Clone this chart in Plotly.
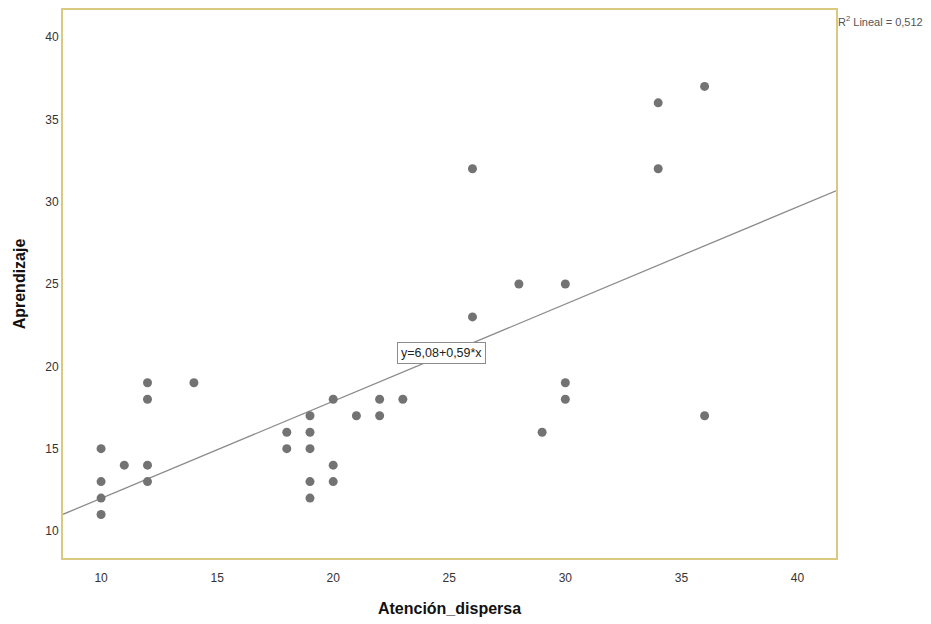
import plotly.graph_objects as go

# Data (Atención_dispersa vs Aprendizaje)
atencion = [10, 10, 10, 10, 11, 12, 12, 12, 12, 14,
            18, 18, 19, 19, 19, 19, 19, 20, 20, 20,
            21, 22, 22, 23, 26, 26, 28, 29, 30, 30,
            30, 34, 34, 36, 36]
aprendizaje = [15, 13, 12, 11, 14, 19, 18, 14, 13, 19,
               16, 15, 17, 16, 15, 13, 12, 18, 14, 13,
               17, 18, 17, 18, 32, 23, 25, 16, 25, 19,
               18, 36, 32, 37, 17]

intercept = 6.08
slope = 0.59
r2 = "0,512"
x_range = [8.36, 41.66]
y_range = [8.36, 41.64]
tick_vals = [10, 15, 20, 25, 30, 35, 40]

line_x = x_range
line_y = [intercept + slope * v for v in line_x]

frame_color = "#DCC980"
font_fam = "Liberation Sans, Arial, sans-serif"

fig = go.Figure()
fig.add_trace(go.Scatter(
    x=line_x, y=line_y, mode="lines",
    line=dict(color="#8C8C8C", width=1.3),
    hoverinfo="skip", showlegend=False))
fig.add_trace(go.Scatter(
    x=atencion, y=aprendizaje, mode="markers",
    marker=dict(color="#737373", size=9, line=dict(width=0)),
    showlegend=False))

fig.add_annotation(
    x=24.66, y=20.8, xref="x", yref="y",
    text="y=6,08+0,59*x", showarrow=False,
    font=dict(family=font_fam, size=12.5, color="#222222"),
    bgcolor="white", bordercolor="#8C8C8C", borderwidth=1, borderpad=3)

fig.add_annotation(
    x=1.0, y=1.0, xref="paper", yref="paper",
    xanchor="left", yanchor="top", xshift=0, yshift=-2,
    text="R<sup>2</sup> Lineal = " + r2, showarrow=False,
    font=dict(family=font_fam, size=11, color="#555555"))

fig.update_xaxes(
    range=x_range, tickvals=tick_vals, showgrid=False, zeroline=False,
    showline=True, mirror=True, linecolor=frame_color, linewidth=2,
    ticks="", ticklen=0, automargin=False, ticklabelstandoff=8,
    tickfont=dict(family=font_fam, size=12, color="#333333"),
    title=dict(text="<b>Atención_dispersa</b>", standoff=18,
               font=dict(family=font_fam, size=16, color="#111111")))
fig.update_yaxes(
    range=y_range, tickvals=tick_vals, showgrid=False, zeroline=False,
    showline=True, mirror=True, linecolor=frame_color, linewidth=2,
    ticks="", ticklen=0, automargin=False,
    tickfont=dict(family=font_fam, size=12, color="#333333"),
    title=dict(text="<b>Aprendizaje</b>", standoff=16,
               font=dict(family=font_fam, size=16, color="#111111")))

fig.update_layout(
    width=931, height=624,
    margin=dict(l=55, r=103, t=2, b=74, autoexpand=False),
    plot_bgcolor="white", paper_bgcolor="white",
    showlegend=False)

fig.write_html("out.html")
